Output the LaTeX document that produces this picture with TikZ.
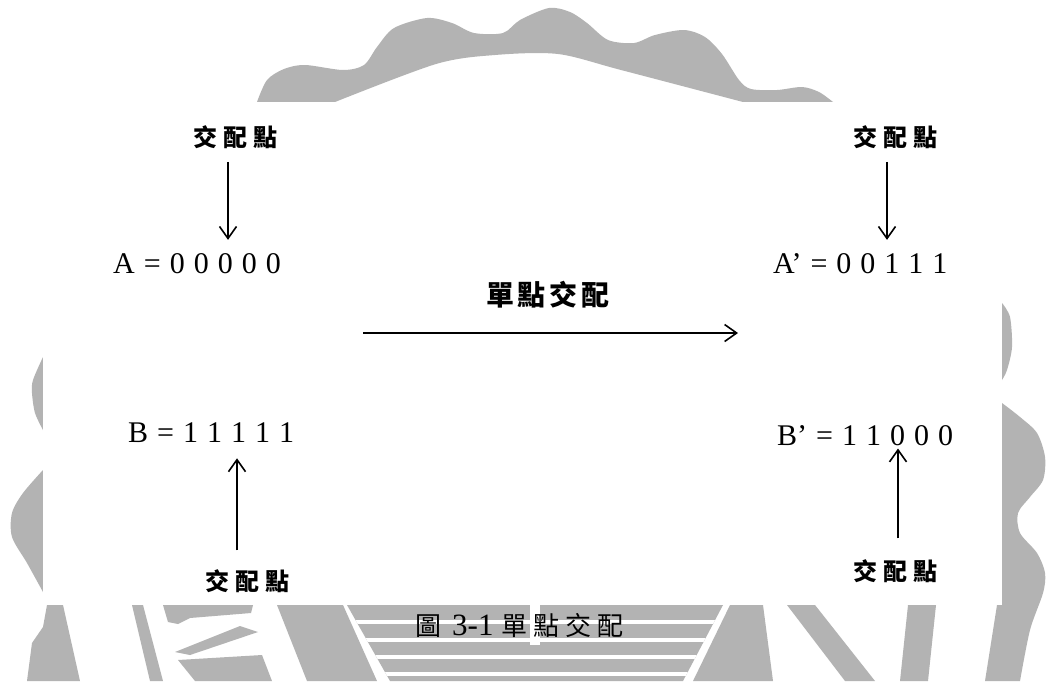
\documentclass[tikz,border=0pt]{standalone}
\usepackage{fontspec}
\setmainfont{Liberation Serif}
\newfontfamily\cjk{Noto Sans CJK TC}
\newfontfamily\lat[WordSpace=1.2]{Liberation Serif}
\usetikzlibrary{arrows.meta}
\definecolor{wm}{RGB}{179,179,179}
\tikzset{
 lbl/.style={inner sep=0pt, font=\cjk\bfseries\fontsize{24}{27}\selectfont},
 bigl/.style={inner sep=0pt, font=\cjk\bfseries\fontsize{28}{31}\selectfont},
 eq/.style={inner sep=0pt, anchor=base west, font=\lat\fontsize{30}{33}\selectfont},
 arr/.style={line width=1.6pt, -{Straight Barb[length=12pt,width=17pt,line width=1.6pt]}},
 wmark/.style={fill=wm, draw=none},
}
\newcommand{\kk}{\kern6pt}
\begin{document}
\begin{tikzpicture}[x=1pt,y=-1pt]
\useasboundingbox[fill=white] (0,0) rectangle (1046,681);
% ---- watermark ----
\fill[wmark] plot[smooth] coordinates {(257,102) (267,80) (284,69) (305,65) (343,70) (364,65) (377,47) (394,28) (427,18) (452,23) (474,33) (503,33) (520,20) (549,8) (570,12) (587,23) (608,40) (634,43) (655,35) (684,30) (705,37) (722,54) (739,80) (751,89) (777,90) (802,87) (819,92) (833,102)}
  -- plot[smooth] coordinates {(743,102) (621,70) (558,54) (495,55) (436,64) (335,102)} -- cycle;
\fill[wmark] plot[smooth] coordinates {(43,357) (33,380) (32,393) (35,413) (43,430)} -- cycle;
\fill[wmark] plot[smooth] coordinates {(43,470) (23,493) (12,513) (12,537) (27,563) (43,592)} -- cycle;
\fill[wmark] (47,605) -- (63,605) -- (80,681) -- (27,681) -- (32,643) -- (43,627) -- cycle;
\fill[wmark] plot[smooth] coordinates {(1002,303) (1010,317) (1012,347) (1007,370) (1002,380)} -- cycle;
\fill[wmark] plot[smooth] coordinates {(1002,403) (1020,417) (1037,433) (1045,457) (1043,480) (1030,497) (1018,513) (1020,533) (1037,553) (1045,573) (1043,593) (1030,630) (1020,681)} -- (985,681) -- (997,605) -- (1002,605) -- cycle;
\fill[wmark] (908,605) -- (936,605) -- (928,681) -- (900,681) -- cycle;
\fill[wmark] (787,605) -- (815,605) -- (875,681) -- (845,681) -- cycle;
\fill[wmark] (730,605) -- (763,605) -- (773,681) -- (693,681) -- cycle;
\fill[wmark] (132,605) -- (143,605) -- (163,681) -- (150,681) -- cycle;
\fill[wmark] (163,605) -- (253,605) -- (251,613) -- (190,618) -- (178,624) -- (168,622) -- cycle;
\fill[wmark] (240,626) -- (258,632) -- (190,655) -- (175,652) -- cycle;
\fill[wmark] (178,660) -- (262,655) -- (272,681) -- (195,681) -- cycle;
\fill[wmark] (277,605) -- (343,605) -- (377,681) -- (307,681) -- cycle;
\fill[wmark] (347,605) -- (723,605) -- (683,681) -- (390,681) -- cycle;
\begin{scope}
 \clip (347,605) -- (723,605) -- (683,681) -- (390,681) -- cycle;
 \fill[white] (340,620) rectangle (730,624);
 \fill[white] (340,638) rectangle (730,642);
 \fill[white] (340,655) rectangle (730,659);
 \fill[white] (340,672) rectangle (730,676);
 \fill[white] (530,605) rectangle (540,645);
\end{scope}
% ---- white panel ----
\fill[white] (43,102) rectangle (1002,605);
% ---- texts ----
\node[lbl] (cTL) at (235,137) {交\kk 配\kk 點};
\node[lbl] (cTR) at (895,137) {交\kk 配\kk 點};
\node[eq] (A) at (113,273) {A = 0 0 0 0 0};
\node[eq] (A2) at (773,273) {A’ = 0 0 1 1 1};
\node[bigl] (mid) at (548,295) {單\kern4pt 點\kern4pt 交\kern4pt 配};
\node[eq] (B) at (128,442) {B = 1 1 1 1 1};
\node[eq] (B2) at (777,445) {B’ = 1 1 0 0 0};
\node[lbl] (cBL) at (247,581) {交\kk 配\kk 點};
\node[lbl] (cBR) at (895,571) {交\kk 配\kk 點};
\node[inner sep=0pt, anchor=base west] (cap) at (415,635) {{\cjk\fontsize{26}{28}\selectfont 圖}\hspace{11pt}{\fontsize{31}{33}\selectfont 3-1}\hspace{8pt}{\cjk\fontsize{26}{28}\selectfont 單\kern6pt 點\kern6pt 交\kern6pt 配}};
% ---- arrows ----
\coordinate (xL1) at (228,0);
\coordinate (xR1) at (887,0);
\coordinate (xL2) at (237,0);
\coordinate (xR2) at (898,0);
\coordinate (m1) at (363,333);
\coordinate (m2) at (738,333);
\draw[arr, shorten <=13pt, shorten >=13pt] (cTL.south -| xL1) -- (A.north -| xL1);
\draw[arr, shorten <=13pt, shorten >=13pt] (cTR.south -| xR1) -- (A2.north -| xR1);
\draw[arr, shorten <=19pt, shorten >=16pt] (cBL.north -| xL2) -- (B.south -| xL2);
\draw[arr, shorten <=21pt, shorten >=3pt] (cBR.north -| xR2) -- (B2.south -| xR2);
\draw[arr] (m1) -- (m2);
\end{tikzpicture}
\end{document}
